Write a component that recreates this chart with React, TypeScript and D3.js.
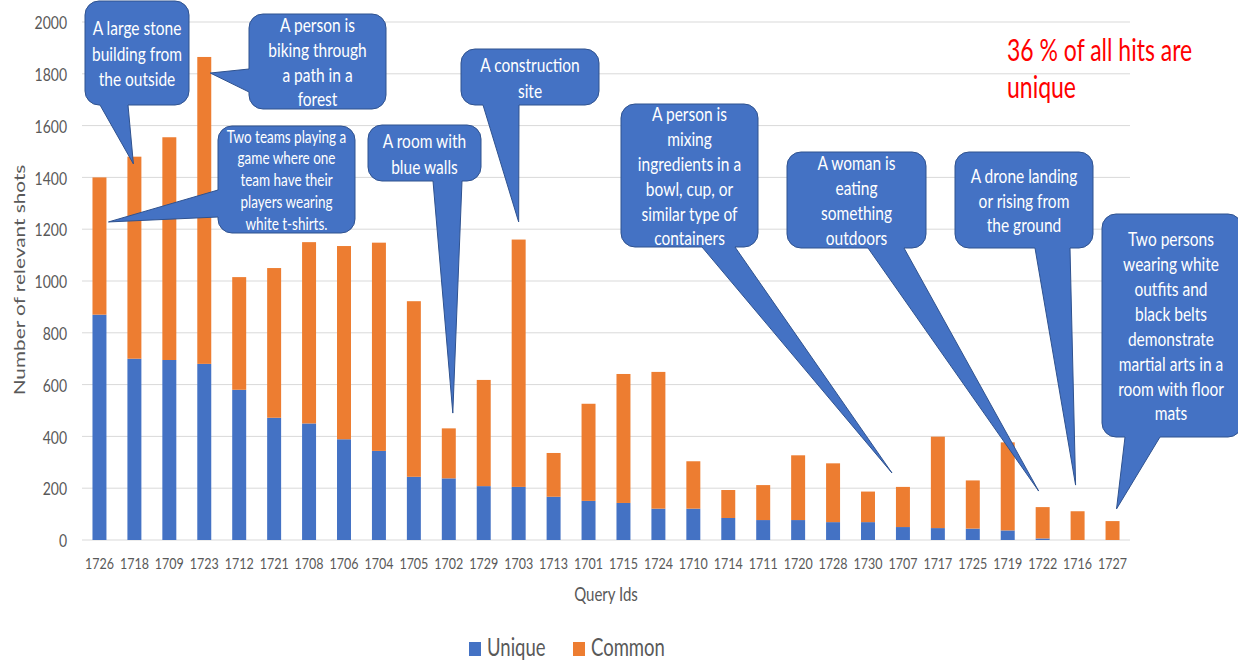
import React from "react";
import * as d3 from "d3";

const categories = ["1726","1718","1709","1723","1712","1721","1708","1706","1704","1705","1702","1729","1703","1713","1701","1715","1724","1710","1714","1711","1720","1728","1730","1707","1717","1725","1719","1722","1716","1727"];
const uniqueVals = [870,700,695,680,580,472,450,389,344,244,238,208,205,167,151,143,121,121,85,77,77,69,69,50,46,44,37,6,0,0];
const totalVals = [1400,1480,1555,1865,1015,1050,1150,1135,1148,922,431,618,1160,336,526,641,649,304,193,212,327,296,187,205,399,230,377,127,111,73];
const commonVals = totalVals.map((t, i) => t - uniqueVals[i]);
const yTicks = [0,200,400,600,800,1000,1200,1400,1600,1800,2000];
const seriesNames = ["Unique", "Common"];

const calloutTexts = [
  ["A large stone", "building from", "the outside"],
  ["A person is", "biking through", "a path in a", "forest"],
  ["Two teams playing a", "game where one", "team have their", "players wearing", "white t-shirts."],
  ["A room with", "blue walls"],
  ["A construction", "site"],
  ["A person is", "mixing", "ingredients in a", "bowl, cup, or", "similar type of", "containers"],
  ["A woman is", "eating", "something", "outdoors"],
  ["A drone landing", "or rising from", "the ground"],
  ["Two persons", "wearing white", "outfits and", "black belts", "demonstrate", "martial arts in a", "room with floor", "mats"],
];
const calloutTargetCat = ["1718","1723","1726","1702","1703","1707","1722","1716","1727"];
const calloutTargetVal = [1452,1803,1228,490,1228,259,189,212,120];

// layout (pixels)
const calloutLayout = [
  { x: 85, y: 1, w: 104, h: 104, side: "bottom", b: [100, 128], dx: -1, fs: 15.5, lh: 25.5 },
  { x: 249, y: 14, w: 137, h: 95, side: "left", b: [69, 92], dx: 6, fs: 15.5, lh: 24.7 },
  { x: 218, y: 126, w: 137, h: 107, side: "left", b: [190, 217], dx: 9, fs: 13.5, lh: 21.8 },
  { x: 368, y: 125, w: 113, h: 56, side: "bottom", b: [433, 462], dx: 4, fs: 15.5, lh: 26 },
  { x: 461, y: 49, w: 138, h: 56, side: "bottom", b: [483, 519], dx: 0, fs: 15.5, lh: 26 },
  { x: 621, y: 104, w: 137, h: 143, side: "bottom", b: [702, 735], dx: -11, fs: 15.5, lh: 24.8 },
  { x: 787, y: 152, w: 139, h: 96, side: "bottom", b: [868, 904], dx: -4, fs: 15.5, lh: 25 },
  { x: 955, y: 152, w: 138, h: 96, side: "bottom", b: [1035, 1070], dx: -2, fs: 15.5, lh: 24.6 },
  { x: 1102, y: 214, w: 140, h: 223, side: "bottom", b: [1125, 1160], dx: 4, fs: 15.5, lh: 24.9 },
];

const W = 1238, H = 661;
const SY = 1.3;
const FONT = "Lato, 'Open Sans', sans-serif";
const BLUE = "#4472C4", ORANGE = "#ED7D31", GRID = "#D9D9D9", GRAY = "#595959";

function T({ x, y, size, fill = GRAY, anchor = "middle", children, rotate = false }: any) {
  const tr = rotate
    ? `translate(${x},${y}) rotate(-90) scale(${SY},1)`
    : `translate(${x},${y}) scale(1,${SY})`;
  return (
    <text transform={tr} fontSize={size} fill={fill} textAnchor={anchor} dominantBaseline="central" fontFamily={FONT}>
      {children}
    </text>
  );
}

function calloutPath(l: any, tip: [number, number]) {
  const r = 14;
  const { x, y, w, h } = l;
  let p = `M${x + r},${y} H${x + w - r} A${r},${r} 0 0 1 ${x + w},${y + r} V${y + h - r} A${r},${r} 0 0 1 ${x + w - r},${y + h}`;
  if (l.side === "bottom") p += ` H${l.b[1]} L${tip[0]},${tip[1]} L${l.b[0]},${y + h}`;
  p += ` H${x + r} A${r},${r} 0 0 1 ${x},${y + h - r}`;
  if (l.side === "left") p += ` V${l.b[1]} L${tip[0]},${tip[1]} L${x},${l.b[0]}`;
  p += ` V${y + r} A${r},${r} 0 0 1 ${x + r},${y} Z`;
  return p;
}

export default function App() {
  const x0 = 82, x1 = 1130, yTop = 22, yBot = 540;
  const x = d3.scaleBand().domain(categories).range([x0, x1]).paddingInner(0.6).paddingOuter(0.3);
  const y = d3.scaleLinear().domain([0, 2000]).range([yBot, yTop]);
  const bw = x.bandwidth();

  return (
    <svg width={W} height={H} style={{ display: "block", position: "absolute", left: 0, top: 0, background: "#fff" }}>
      <style>{`body{margin:0}`}</style>
      {yTicks.map((t) => (
        <g key={t}>
          <line x1={x0} x2={x1} y1={y(t)} y2={y(t)} stroke={GRID} strokeWidth={1} />
          <T x={67} y={y(t)} size={14} anchor="end">{t}</T>
        </g>
      ))}
      {categories.map((c, i) => (
        <g key={c}>
          <rect x={x(c)} y={y(uniqueVals[i])} width={bw} height={y(0) - y(uniqueVals[i])} fill={BLUE} />
          <rect x={x(c)} y={y(totalVals[i])} width={bw} height={y(uniqueVals[i]) - y(totalVals[i])} fill={ORANGE} />
          <T x={(x(c) as number) + bw / 2} y={563} size={12.5}>{c}</T>
        </g>
      ))}
      <T x={19} y={280} size={16} rotate>Number of relevant shots</T>
      <T x={606} y={594} size={15}>Query Ids</T>

      {calloutLayout.map((l, i) => {
        const tip: [number, number] = [(x(calloutTargetCat[i]) as number) + bw / 2 + l.dx, y(calloutTargetVal[i])];
        const lines = calloutTexts[i];
        const cy = l.y + l.h / 2;
        const cx = l.x + l.w / 2;
        return (
          <g key={i}>
            <path d={calloutPath(l, tip)} fill={BLUE} stroke="#2F528F" strokeWidth={1} />
            {lines.map((s, j) => (
              <T key={j} x={i === 8 ? l.x + 69 : cx} y={cy + (j - (lines.length - 1) / 2) * l.lh} size={l.fs} fill="#fff">{s}</T>
            ))}
          </g>
        );
      })}

      <T x={1007} y={50} size={23} fill="#FF0000" anchor="start">36 % of all hits are</T>
      <T x={1007} y={87} size={23} fill="#FF0000" anchor="start">unique</T>

      {seriesNames.map((s, i) => {
        const lx = [469, 573][i];
        return (
          <g key={s}>
            <rect x={lx} y={642} width={12} height={14} fill={[BLUE, ORANGE][i]} />
            <T x={lx + 18} y={647} size={18.5} anchor="start">{s}</T>
          </g>
        );
      })}
    </svg>
  );
}
